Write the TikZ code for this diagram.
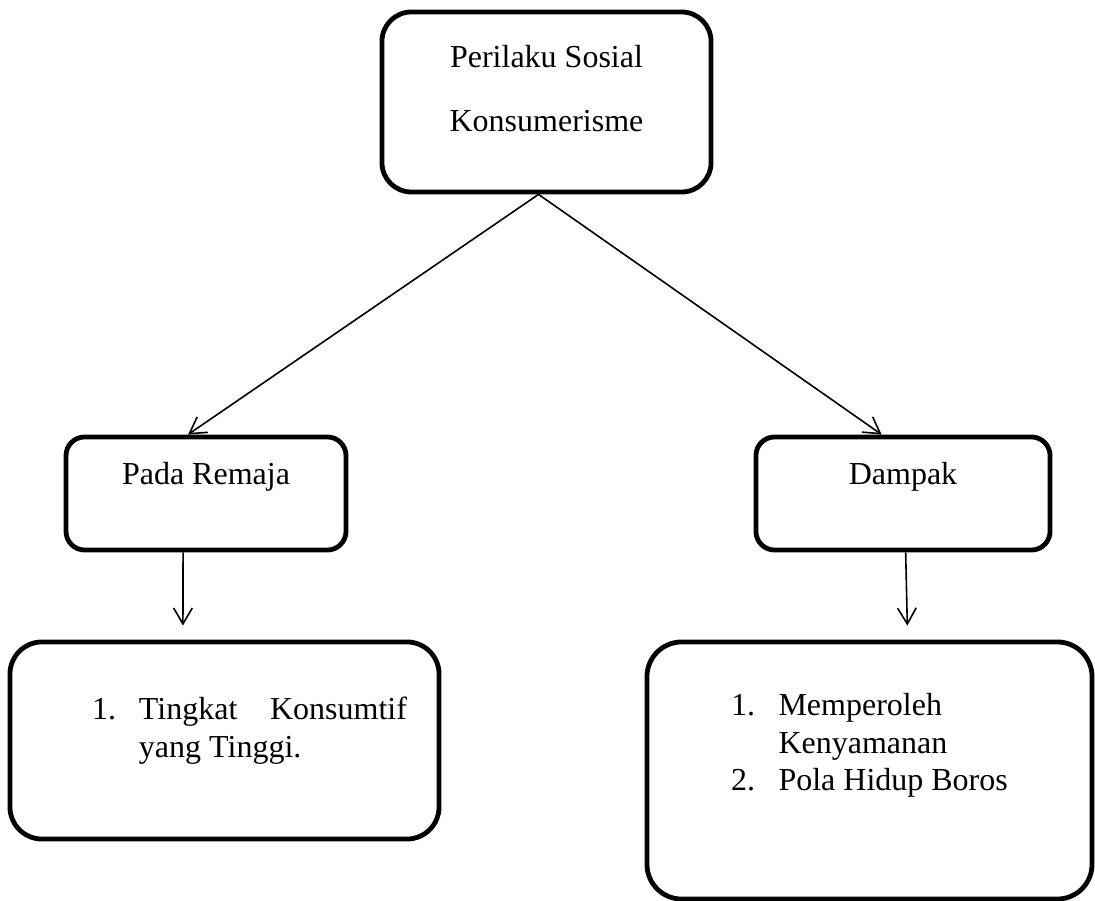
\documentclass[tikz,border=0pt]{standalone}
\usepackage{fontspec}
\setmainfont{Liberation Serif}
\usetikzlibrary{arrows.meta}

\begin{document}
\begin{tikzpicture}[x=0.375pt, y=-0.375pt,
	box/.style={draw, line width=1.8pt, inner sep=3pt, text height=10pt},
	link/.style={line width=0.6pt, -{Straight Barb[length=6pt, width=7pt]}}]

\fontsize{12pt}{14pt}\selectfont
\path [use as bounding box] (0,0) rectangle (1095,901);

% TOP
\node [box, rounded corners=11pt, minimum width=123.4pt, minimum height=67.5pt, text depth=35.5pt]
	(sosial) at (546.5,102)
	{\begin{tabular}[t]{@{}c@{}}Perilaku Sosial\\[10pt]Konsumerisme\end{tabular}};

% MIDDLE
\node [box, rounded corners=7pt, minimum width=105pt, minimum height=42.4pt, text depth=16.4pt]
	(remaja) at (206,493.5) {Pada Remaja};
\node [box, rounded corners=7pt, minimum width=110.3pt, minimum height=42.4pt, text depth=16.4pt]
	(dampak) at (903,493.5) {Dampak};

% BOTTOM
\node [box, rounded corners=12pt, minimum width=160.9pt, minimum height=73.9pt, text depth=25.4pt]
	(konsumtif) at (224.5,740.5)
	{\begin{tabular}[t]{@{\hspace{18.75pt}}l@{\hspace{8.6pt}}p{100.5pt}@{}}
	1. & Tingkat\hfill Konsumtif\newline yang Tinggi.
	\end{tabular}};
\node [box, rounded corners=13pt, minimum width=166.9pt, minimum height=96.4pt, text depth=50.9pt]
	(boros) at (869.5,770.5)
	{\begin{tabular}[t]{@{}l@{\hspace{8.75pt}}l@{}}
	1. & Memperoleh\\
	   & Kenyamanan\\
	2. & Pola Hidup Boros
	\end{tabular}};

% ARROWS
\draw [link] ([xshift=-3pt]sosial.south) -- ([xshift=-6.75pt]remaja.north);
\draw [link] ([xshift=-3pt]sosial.south) -- ([xshift=-8pt]dampak.north);
\draw [link, shorten >=5.25pt] ([xshift=-8.6pt]remaja.south) -- ([xshift=-15.6pt]konsumtif.north);
\draw [link, shorten >=5.25pt] ([xshift=1pt]dampak.south) -- ([xshift=14.3pt]boros.north);

\end{tikzpicture}
\end{document}
